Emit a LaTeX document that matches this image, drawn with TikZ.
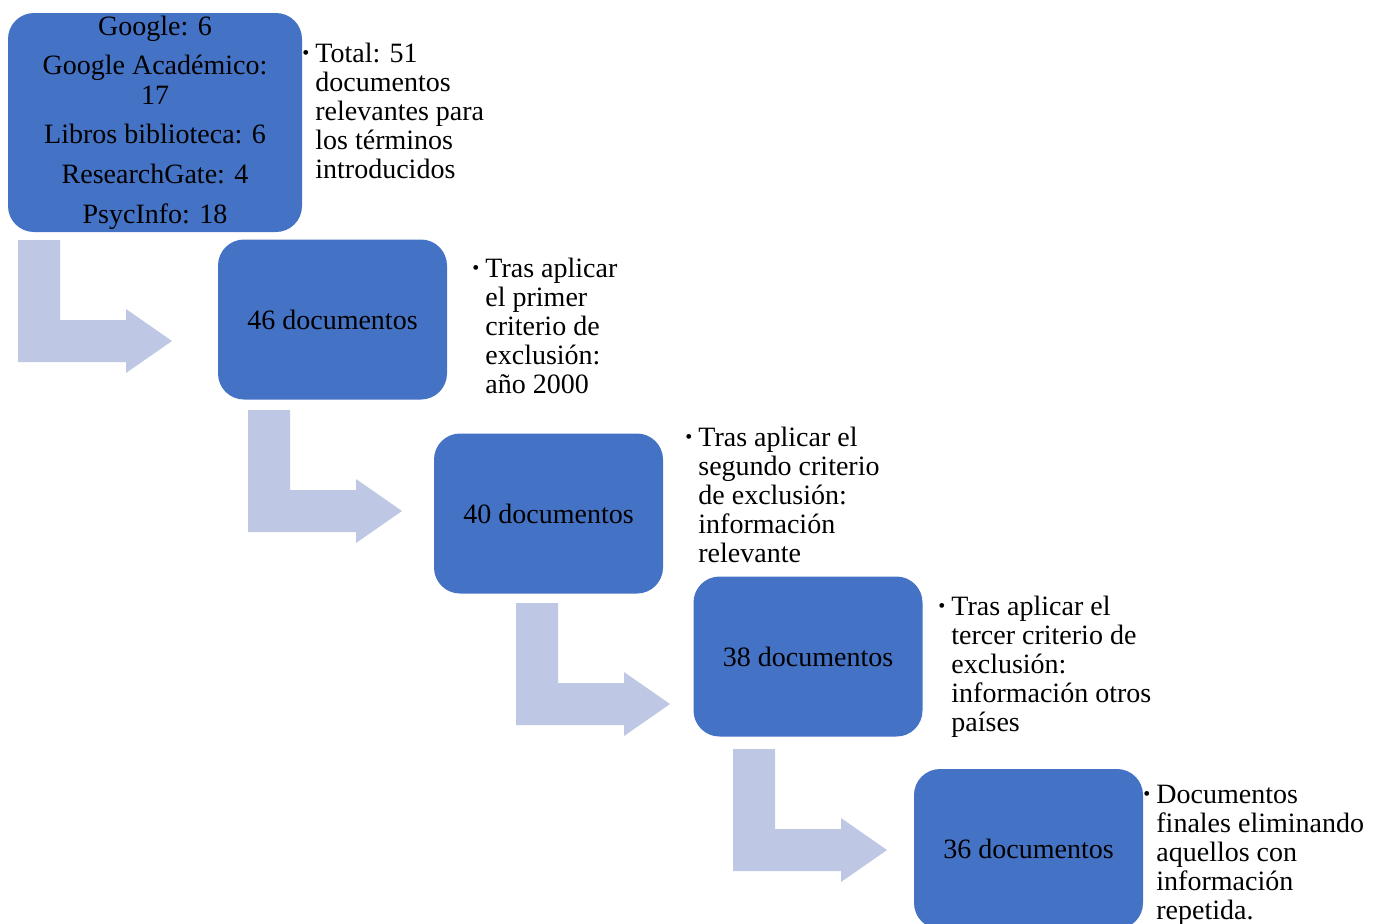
\documentclass[tikz,border=0pt]{standalone}
\usepackage{fontspec}
\setmainfont{Liberation Serif}
\definecolor{stepBlue}{RGB}{68,114,196}
\definecolor{stepArrow}{RGB}{190,200,228}
\newcommand\notebullet{\llap{\raisebox{1.5pt}{\fontsize{10pt}{10pt}\selectfont\textbullet}\hspace{3pt}}}
\tikzset{
  stepbox/.style={rectangle, fill=stepBlue, rounded corners=13pt, minimum width=114.5pt,
    minimum height=80pt, align=center, inner sep=0pt, font=\fontsize{14pt}{15pt}\selectfont},
  notetext/.style={align=left, inner sep=0pt, anchor=base west,
    font=\fontsize{14pt}{14.5pt}\selectfont},
  bendarrow/.pic={
    \fill[stepArrow] (0,0) -- (42,0) -- (42,80) -- (108,80) -- (108,69) -- (154,101)
      -- (108,133) -- (108,122) -- (0,122) -- cycle;
  },
}
\begin{document}
\begin{tikzpicture}[x=0.5pt,y=-0.5pt]
  \useasboundingbox (0,0) rectangle (1374,923);
  \clip (0,0) rectangle (1374,923);

  % search results
  \node[stepbox, minimum width=147pt, minimum height=109.5pt] (src) at (155,122.5)
    {Google: 6\\[4.5pt]Google Académico:\\17\\[4.5pt]Libros biblioteca: 6\\[5pt]ResearchGate: 4\\[5pt]PsycInfo: 18};
  \node[notetext] (note51) at (315,178)
    {\notebullet Total: 51\\documentos\\relevantes para\\los términos\\introducidos};

  \pic at (18,240) {bendarrow};
  \node[stepbox] (n46) at (332.5,319.5) {46 documentos};
  \node[notetext] (note46) at (485,393)
    {\notebullet Tras aplicar\\el primer\\criterio de\\exclusión:\\año 2000};

  \pic at (248,410) {bendarrow};
  \node[stepbox] (n40) at (548.5,513.5) {40 documentos};
  \node[notetext] (note40) at (698,562)
    {\notebullet Tras aplicar el\\segundo criterio\\de exclusión:\\información\\relevante};

  \pic at (516,603) {bendarrow};
  \node[stepbox] (n38) at (808,656.5) {38 documentos};
  \node[notetext] (note38) at (951,731)
    {\notebullet Tras aplicar el\\tercer criterio de\\exclusión:\\información otros\\países};

  \pic at (733,749) {bendarrow};
  \node[stepbox] (n36) at (1028.5,849) {36 documentos};
  \node[notetext] (note36) at (1156,919)
    {\notebullet Documentos\\finales eliminando\\aquellos con\\información\\repetida.};
\end{tikzpicture}
\end{document}
